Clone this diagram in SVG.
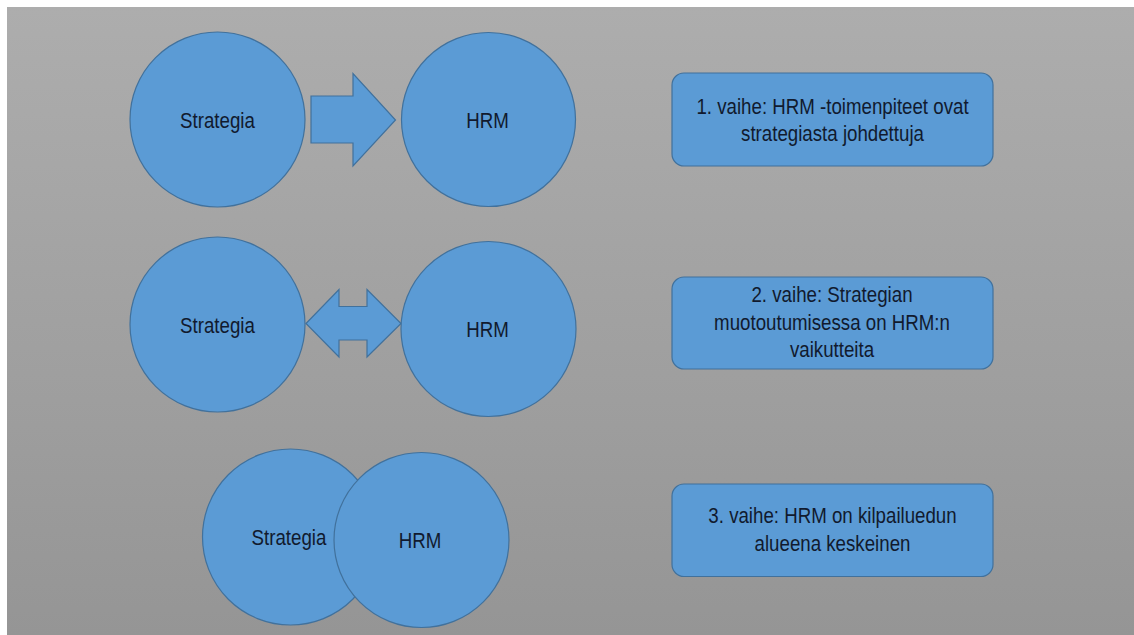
<svg xmlns="http://www.w3.org/2000/svg" width="1134" height="635" viewBox="0 0 1134 635">
<defs>
<linearGradient id="bg" x1="0" y1="0" x2="0" y2="1">
<stop offset="0" stop-color="#adadad"/>
<stop offset="1" stop-color="#959595"/>
</linearGradient>
<style>
.shape{fill:#5b9bd5;stroke:#41719c;stroke-width:1.2}
.t{font-family:"Liberation Sans",Arial,sans-serif;font-size:22px;fill:#111a2e;text-anchor:middle}
</style>
</defs>
<rect x="0" y="0" width="1134" height="635" fill="#ffffff"/>
<rect x="7" y="7" width="1127" height="628" fill="url(#bg)"/>

<g id="connectors">
<polygon id="arrow1" class="shape" points="311,96 353,96 353,73.5 395.5,120 353,166 353,143 311,143"/>
<polygon id="arrow2" class="shape" points="306,323.5 339,289.5 339,306.5 367,306.5 367,289.5 401,323.5 367,357 367,340 339,340 339,357"/>
</g>

<g id="strategia1">
<circle class="shape" cx="217.5" cy="119.5" r="87.5"/>
<g transform="translate(217.5 0) scale(0.85 1)"><text class="t" x="0" y="128">Strategia</text></g>
</g>
<g id="hrm1">
<circle class="shape" cx="488.5" cy="119.5" r="87"/>
<g transform="translate(487.5 0) scale(0.85 1)"><text class="t" x="0" y="128">HRM</text></g>
</g>

<g id="strategia2">
<circle class="shape" cx="217.5" cy="324.5" r="87.5"/>
<g transform="translate(217.5 0) scale(0.85 1)"><text class="t" x="0" y="333">Strategia</text></g>
</g>
<g id="hrm2">
<circle class="shape" cx="488.5" cy="329" r="87.5"/>
<g transform="translate(487.5 0) scale(0.85 1)"><text class="t" x="0" y="337">HRM</text></g>
</g>

<g id="strategia3">
<circle class="shape" cx="290.5" cy="537" r="88"/>
<g transform="translate(289 0) scale(0.85 1)"><text class="t" x="0" y="545">Strategia</text></g>
</g>
<g id="hrm3">
<circle class="shape" cx="421.5" cy="540" r="87.5"/>
<g transform="translate(420 0) scale(0.85 1)"><text class="t" x="0" y="548">HRM</text></g>
</g>

<g id="box1">
<rect class="shape" x="672" y="73" width="321" height="93" rx="12"/>
<g transform="translate(832.5 0) scale(0.85 1)">
<text class="t" x="0" y="114">1. vaihe: HRM -toimenpiteet ovat</text>
<text class="t" x="0" y="141">strategiasta johdettuja</text>
</g>
</g>
<g id="box2">
<rect class="shape" x="672" y="277" width="321" height="92" rx="12"/>
<g transform="translate(832 0) scale(0.85 1)">
<text class="t" x="0" y="302">2. vaihe: Strategian</text>
<text class="t" x="0" y="330">muotoutumisessa on HRM:n</text>
<text class="t" x="0" y="357">vaikutteita</text>
</g>
</g>
<g id="box3">
<rect class="shape" x="672" y="484" width="321" height="92.5" rx="12"/>
<g transform="translate(832.5 0) scale(0.85 1)">
<text class="t" x="0" y="523">3. vaihe: HRM on kilpailuedun</text>
<text class="t" x="0" y="551">alueena keskeinen</text>
</g>
</g>
</svg>
